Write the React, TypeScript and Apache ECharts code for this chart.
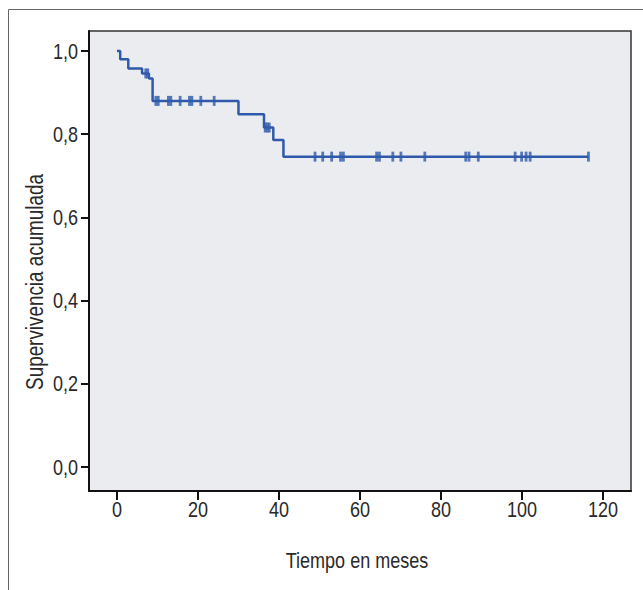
import React, { useEffect, useRef } from "react";
import * as echarts from "echarts";

// Kaplan-Meier steps: time (months) at which survival drops, and survival after the drop
const eventTimes = [0, 0.8, 2.8, 6.2, 7.9, 8.8, 30.0, 36.3, 38.6, 41.1];
const survival = [1.0, 0.98, 0.958, 0.946, 0.934, 0.88, 0.848, 0.816, 0.786, 0.746];
// censored observations (months)
const censorTimes = [
  7.1, 7.6,
  9.6, 10.2, 12.7, 13.3, 15.6, 17.9, 18.5, 20.7, 24.0,
  36.6, 37.1, 37.6,
  48.9, 50.8, 53.0, 55.2, 55.9,
  64.1, 64.8, 68.1, 70.1, 76.0,
  86.1, 86.9, 89.2,
  98.3, 99.9, 101.0, 102.0, 116.4,
];
const xTicks = [0, 20, 40, 60, 80, 100, 120];
const yTicks = [0, 0.2, 0.4, 0.6, 0.8, 1.0];
const xTitle = "Tiempo en meses";
const yTitle = "Supervivencia acumulada";

function survivalAt(t: number): number {
  let s = survival[0];
  for (let i = 0; i < eventTimes.length; i++) {
    if (eventTimes[i] <= t) s = survival[i];
  }
  return s;
}

export default function App() {
  const ref = useRef<HTMLDivElement>(null);
  useEffect(() => {
    document.body.style.margin = "0";
    if (!ref.current) return;

    const family = "'Liberation Sans', Arial, sans-serif";
    const size = 22;
    const narrow = 0.82;

    const chart = echarts.init(ref.current, null, { renderer: "svg" });
    const lastT = censorTimes[censorTimes.length - 1];
    const curve: number[][] = eventTimes.map((t, i) => [t, survival[i]]);
    curve.push([lastT, survival[survival.length - 1]]);
    const censors = censorTimes.map((t) => [t, survivalAt(t)]);
    const textColor = "#2a2a2a";
    const blue = "#2F5AAB";

    chart.setOption({
      animation: false,
      grid: {
        left: 89,
        right: 12,
        top: 31,
        bottom: 99,
        show: true,
        backgroundColor: "#EBECEF",
        borderColor: "#333",
        borderWidth: 1.5,
      },
      xAxis: {
        type: "value",
        min: -6.9,
        max: 126.9,
        axisLine: { onZero: false, lineStyle: { color: "#111", width: 2 } },
        axisTick: { length: 9, customValues: xTicks, lineStyle: { color: "#111", width: 2 } },
        axisLabel: { show: false },
        splitLine: { show: false },
      },
      yAxis: {
        type: "value",
        min: -0.0577,
        max: 1.048,
        axisLine: { onZero: false, lineStyle: { color: "#111", width: 2 } },
        axisTick: { length: 8, customValues: yTicks, lineStyle: { color: "#111", width: 2 } },
        axisLabel: { show: false },
        splitLine: { show: false },
      },
      series: [
        {
          type: "line",
          step: "end",
          data: curve,
          showSymbol: false,
          symbol: "none",
          lineStyle: { color: blue, width: 2.5 },
          z: 3,
        },
        {
          type: "scatter",
          data: censors,
          symbol: "rect",
          symbolSize: [2.8, 10],
          itemStyle: { color: blue },
          z: 4,
        },
      ],
    });

    const font = `${size}px ${family}`;
    const xAxisY = chart.convertToPixel({ yAxisIndex: 0 }, -0.0577) as number;
    const yAxisX = chart.convertToPixel({ xAxisIndex: 0 }, -6.9) as number;
    const xLabels = xTicks.map((v) => ({
      type: "text",
      x: chart.convertToPixel({ xAxisIndex: 0 }, v) as number,
      y: xAxisY + 18,
      scaleX: narrow,
      style: {
        text: String(v),
        fill: textColor,
        font,
        align: "center",
        verticalAlign: "middle",
      },
    }));
    const yLabels = yTicks.map((v) => ({
      type: "text",
      x: yAxisX - 11,
      y: chart.convertToPixel({ yAxisIndex: 0 }, v) as number,
      scaleX: narrow,
      style: {
        text: v.toFixed(1).replace(".", ","),
        fill: textColor,
        font,
        align: "right",
        verticalAlign: "middle",
      },
    }));

    chart.setOption({
      graphic: [
        {
          type: "line",
          shape: { x1: 8.5, y1: 9.5, x2: 643, y2: 9.5 },
          style: { stroke: "#666", lineWidth: 1 },
        },
        {
          type: "line",
          shape: { x1: 8.5, y1: 9.5, x2: 8.5, y2: 590 },
          style: { stroke: "#666", lineWidth: 1 },
        },
        ...xLabels,
        ...yLabels,
        {
          type: "text",
          x: 357,
          y: 560,
          scaleX: narrow,
          style: {
            text: xTitle,
            fill: textColor,
            font,
            align: "center",
            verticalAlign: "middle",
          },
        },
        {
          type: "text",
          x: 35,
          y: 282,
          rotation: Math.PI / 2,
          scaleX: narrow,
          style: {
            text: yTitle,
            fill: textColor,
            font: `${size + 1}px ${family}`,
            align: "center",
            verticalAlign: "middle",
          },
        },
      ],
    });
    return () => chart.dispose();
  }, []);
  return <div ref={ref} style={{ width: 643, height: 590 }} />;
}
